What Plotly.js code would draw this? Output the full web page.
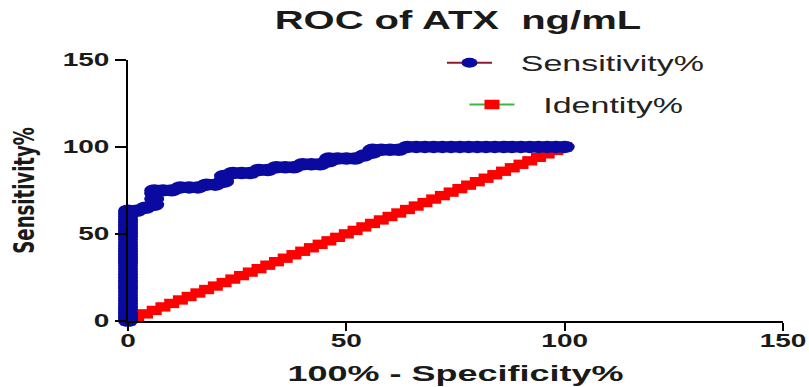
<!DOCTYPE html>
<html>
<head>
<meta charset="utf-8">
<script src="https://cdn.plot.ly/plotly-3.0.1.min.js"></script>
<style>
  html, body { margin: 0; padding: 0; background: #ffffff; }
  #frame { width: 809px; height: 387px; overflow: hidden; position: relative; }
  /* the figure is laid out tall and then compressed vertically into the frame */
  #chart { width: 809px; height: 620px; transform: scaleY(0.624194); transform-origin: 0 0; }
</style>
</head>
<body>
<div id="frame"><div id="chart"></div></div>
<script>
// ROC of ATX (ng/mL): 100% - Specificity% vs Sensitivity%
const fprPct = [
  0, 0, 0, 0, 0, 0, 0, 0, 0, 0,
  0, 0, 0, 0, 0, 0, 0, 0, 0, 0,
  0, 0, 0, 0, 0, 0, 0, 0, 0, 0,
  0, 0, 0, 0, 0, 0, 0, 0, 0,
  2, 4, 6, 6, 6, 6, 8, 10, 12, 14,
  16, 18, 20, 22, 22, 22, 24, 26, 28, 30,
  32, 34, 36, 38, 40, 42, 44, 46, 46, 48,
  50, 52, 54, 56, 56, 58, 60, 62, 64, 66,
  68, 70, 72, 74, 76, 78, 80, 82, 84, 86,
  88, 90, 92, 94, 96, 98, 100
];
const sensitivityPct = [
  0, 1.7, 3.3, 5, 6.7, 8.3, 10, 11.7, 13.3, 15,
  16.7, 18.3, 20, 21.7, 23.3, 25, 26.7, 28.3, 30, 31.7,
  33.3, 35, 36.7, 38.3, 40, 41.7, 43.3, 45, 46.7, 48.3,
  50, 51.7, 53.3, 55, 56.7, 58.3, 60, 61.7, 63.3,
  63.3, 65, 66.7, 70, 73.3, 75, 75, 75, 76.7, 76.7,
  76.7, 78.3, 78.3, 80, 81.7, 83.3, 85, 85, 85, 86.7,
  86.7, 88.3, 88.3, 88.3, 90, 90, 90, 91.7, 93.3, 93.3,
  93.3, 93.3, 95, 96.7, 98.3, 98.3, 98.3, 98.3, 100, 100,
  100, 100, 100, 100, 100, 100, 100, 100, 100, 100,
  100, 100, 100, 100, 100, 100, 100
];

// Reference (chance) line
const identityX = [
  0, 2, 4, 6, 8, 10, 12, 14, 16, 18, 20, 22, 24, 26, 28, 30, 32, 34, 36, 38,
  40, 42, 44, 46, 48, 50, 52, 54, 56, 58, 60, 62, 64, 66, 68, 70, 72, 74, 76, 78,
  80, 82, 84, 86, 88, 90, 92, 94, 96, 98, 100
];
const identityPct = [
  0, 2, 4, 6, 8, 10, 12, 14, 16, 18, 20, 22, 24, 26, 28, 30, 32, 34, 36, 38,
  40, 42, 44, 46, 48, 50, 52, 54, 56, 58, 60, 62, 64, 66, 68, 70, 72, 74, 76, 78,
  80, 82, 84, 86, 88, 90, 92, 94, 96, 98, 100
];

const axisTicks = [0, 50, 100, 150];
const seriesNames = ['Sensitivity%', 'Identity%'];

const FONT = 'Liberation Sans, Arial, Helvetica, sans-serif';
// small gap between a legend symbol and its label
const LABEL_GAP = '\u2002\u2009';

const identityTrace = {
  x: identityX, y: identityPct, name: LABEL_GAP + seriesNames[1],
  type: 'scatter', mode: 'lines+markers', cliponaxis: false,
  legend: 'legend2',
  line: { color: '#3cb83c', width: 3 },
  marker: { symbol: 'square', size: 15, color: '#ff0000', line: { width: 0 } }
};

const rocTrace = {
  x: fprPct, y: sensitivityPct, name: LABEL_GAP + seriesNames[0],
  type: 'scatter', mode: 'lines+markers', cliponaxis: false,
  legend: 'legend',
  line: { color: '#8b1c2c', width: 3 },
  marker: { symbol: 'circle', size: 20, color: '#0a0aa0', line: { width: 0 } }
};

const legendFont = { family: FONT, size: 34, color: '#222' };

const layout = {
  width: 809, height: 620,
  margin: { l: 128, r: 26, t: 96, b: 106, autoexpand: false },
  paper_bgcolor: '#ffffff', plot_bgcolor: '#ffffff',
  font: { family: FONT, color: '#1a1a1a' },
  title: {
    text: 'ROC of ATX\u00a0 ng/mL',
    font: { family: FONT, size: 40, weight: 'bold', color: '#1a1a1a' },
    xref: 'container', yref: 'container',
    x: 0.566, xanchor: 'center', y: 0.948, yanchor: 'middle'
  },
  xaxis: {
    range: [0, 150], tickvals: axisTicks, ticktext: axisTicks.map(String),
    showgrid: false, zeroline: false, showline: true,
    linecolor: '#000', linewidth: 3,
    ticks: 'outside', ticklen: 13, tickwidth: 2, tickcolor: '#000',
    tickfont: { family: FONT, size: 28, weight: 'bold', color: '#1a1a1a' },
    ticklabelstandoff: -8,
    title: {
      text: '100% - Specificity%',
      font: { family: FONT, size: 36, weight: 'bold', color: '#1a1a1a' },
      standoff: 25
    }
  },
  yaxis: {
    range: [0, 150], tickvals: axisTicks, ticktext: axisTicks.map(String),
    showgrid: false, zeroline: false, showline: true,
    linecolor: '#000', linewidth: 2,
    ticks: 'outside', ticklen: 11, tickwidth: 3, tickcolor: '#000',
    tickfont: { family: FONT, size: 28, weight: 'bold', color: '#1a1a1a' },
    title: {
      text: 'Sensitivity%',
      font: { family: 'DejaVu Sans, sans-serif', size: 29, weight: 'bold', color: '#1a1a1a' },
      standoff: 20
    }
  },
  legend: {
    x: 0.4794, xanchor: 'left', y: 0.988, yanchor: 'middle',
    bgcolor: 'rgba(0,0,0,0)', borderwidth: 0, itemwidth: 45,
    font: legendFont
  },
  legend2: {
    x: 0.5137, xanchor: 'left', y: 0.828, yanchor: 'middle',
    bgcolor: 'rgba(0,0,0,0)', borderwidth: 0, itemwidth: 45,
    font: legendFont
  },
  showlegend: true
};

Plotly.newPlot('chart', [identityTrace, rocTrace], layout, { staticPlot: true, displayModeBar: false });
</script>
</body>
</html>
